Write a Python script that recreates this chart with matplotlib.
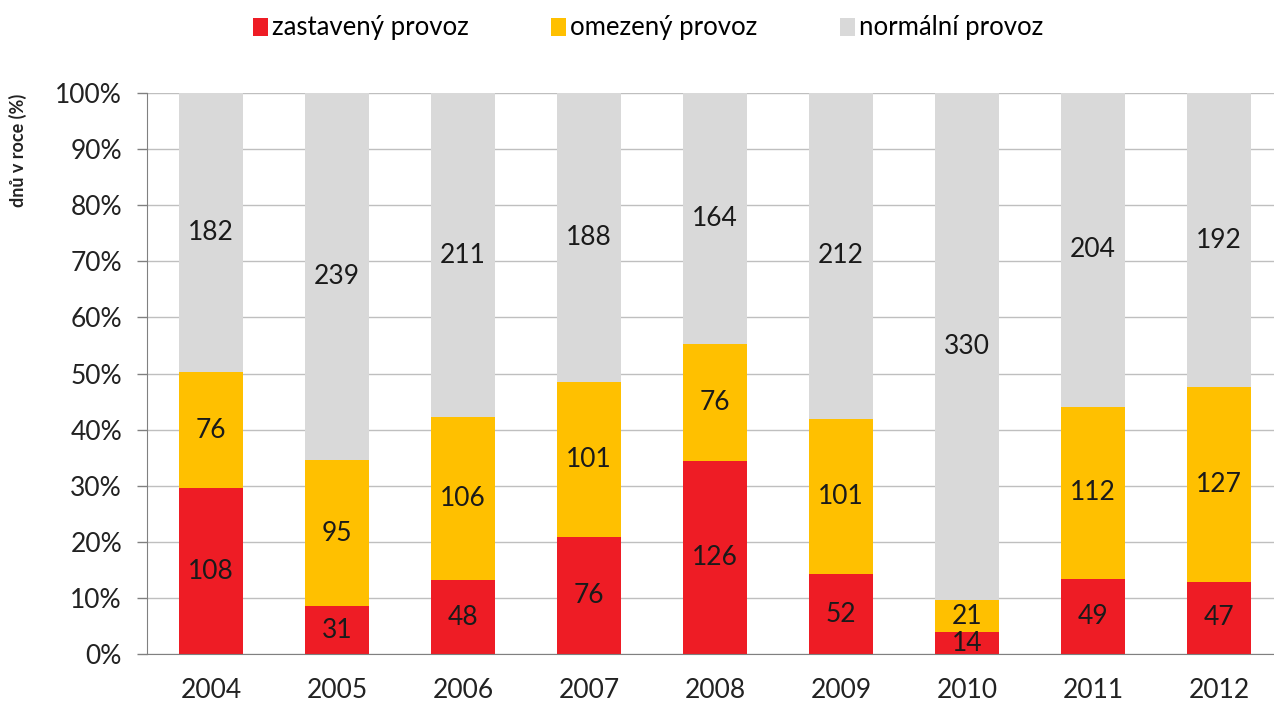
import matplotlib
matplotlib.use("Agg")
import matplotlib.pyplot as plt
from matplotlib.patches import Patch
from matplotlib.ticker import FuncFormatter
import numpy as np

plt.rcParams['font.family'] = ['Lato', 'DejaVu Sans']

years = ["2004", "2005", "2006", "2007", "2008", "2009", "2010", "2011", "2012"]
zastaveny = [108, 31, 48, 76, 126, 52, 14, 49, 47]
omezeny = [76, 95, 106, 101, 76, 101, 21, 112, 127]
normalni = [182, 239, 211, 188, 164, 212, 330, 204, 192]

series = [
    ("zastavený provoz", zastaveny, "#EE1C25"),
    ("omezený provoz", omezeny, "#FFC000"),
    ("normální provoz", normalni, "#D9D9D9"),
]

W, H = 1274, 707
fig = plt.figure(figsize=(W / 100, H / 100), dpi=100)
ax = fig.add_axes([147 / W, 1 - 654 / H, (1282 - 147) / W, (654 - 93) / H])

x = np.arange(len(years))
totals = np.array(zastaveny) + np.array(omezeny) + np.array(normalni)
bottom = np.zeros(len(years))
for name, vals, col in series:
    v = np.array(vals, dtype=float)
    frac = v / totals * 100
    ax.bar(x, frac, bottom=bottom, width=0.51, color=col, zorder=2)
    for xi, b, f, val in zip(x, bottom, frac, vals):
        ax.text(xi, b + f / 2, str(val), ha="center", va="center",
                fontsize=19, color="#1a1a1a", zorder=3)
    bottom += frac

ax.set_xlim(-0.508, 8.5)
ax.set_ylim(0, 100)
ax.set_yticks(np.arange(0, 101, 10))
ax.yaxis.set_major_formatter(FuncFormatter(lambda v, p: f"{int(v)}%"))
ax.set_xticks(x)
ax.set_xticklabels(years)
ax.tick_params(axis="x", length=0, labelsize=19, pad=17, colors="#222222")
ax.tick_params(axis="y", length=7, width=1, color="#808080", labelsize=19, pad=11,
               labelcolor="#222222")
ax.grid(axis="y", color="#BFBFBF", linewidth=1, zorder=0)
ax.set_axisbelow(True)
for s in ["top", "right"]:
    ax.spines[s].set_visible(False)
ax.spines["left"].set_color("#808080")
ax.spines["bottom"].set_color("#808080")

fig.text(18 / W, 1 - 150 / H, "dnů v roce (%)", rotation=90, ha="center", va="center",
         fontsize=13, fontweight="bold", color="#222222")

handles = [Patch(facecolor=c, edgecolor="none") for _, _, c in series]
labels = [n for n, _, _ in series]
fig.legend(handles, labels, loc="center", bbox_to_anchor=(648 / W, 1 - 28 / H), ncol=3,
           frameon=False, fontsize=18.5, handlelength=0.6, handleheight=0.7,
           handletextpad=0.15, columnspacing=3.2)

fig.savefig("out.png", dpi=100)
